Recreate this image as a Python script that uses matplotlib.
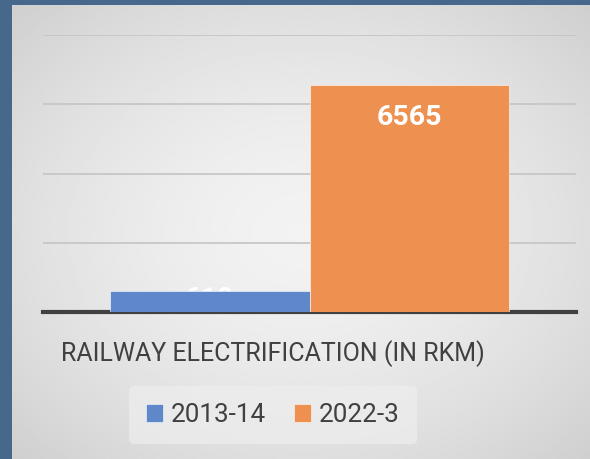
import matplotlib.pyplot as plt
import numpy as np

# data
category = ["RAILWAY ELECTRIFICATION (IN RKM)"]
series = ["2013-14", "2022-3"]
values = [610, 6565]
colors = ["#5e88ca", "#ee904f"]

plt.rcParams['font.family'] = ['Roboto', 'DejaVu Sans']

fig = plt.figure(figsize=(5.9, 4.59), dpi=100)
fig.patch.set_facecolor("#46688a")

# light panel with a soft radial gradient
bg = fig.add_axes([12/590, 0, 578/590, 454/459])
yy, xx = np.mgrid[0:1:200j, 0:1:200j]
r = np.sqrt(((xx - 0.5) / 0.75) ** 2 + ((yy - 0.5) / 0.75) ** 2)
shade = 0.95 - 0.15 * np.clip(r, 0, 1) ** 1.6
bg.imshow(shade, cmap="gray", vmin=0, vmax=1, extent=[0, 1, 0, 1], aspect="auto")
bg.axis("off")

ax = fig.add_axes([43/590, (459-312)/459, 533/590, 0.6034])
ax.set_facecolor("none")
ax.set_xlim(-1, 1)
ax.set_ylim(0, 8000)
ax.set_yticks(range(0, 8001, 2000))
ax.yaxis.grid(True, color="#c4c4c4", linewidth=1.2)
ax.set_axisbelow(True)
ax.tick_params(left=False, labelleft=False, bottom=False, labelbottom=False)
for s in ["left", "right", "top"]:
    ax.spines[s].set_visible(False)
ax.spines["bottom"].set_color("#404040")
ax.spines["bottom"].set_linewidth(3)

w = 0.75
offsets = [-w/2, w/2]
for i in range(len(series)):
    ax.bar(offsets[i], values[i], width=w, color=colors[i], label=series[i],
           edgecolor="white", linewidth=0.4, zorder=3)

# labels inside end (the small one hides behind its bar)
ax.text(offsets[1], values[1] - 950, str(values[1]), ha="center", va="center",
        color="white", fontsize=20.5, fontweight="bold", zorder=4)
ax.text(offsets[0], values[0] - 250, str(values[0]), ha="center", va="center",
        color="white", fontsize=20.5, fontweight="bold", zorder=2)

fig.text(273/590, (459-354)/459, category[0], ha="center", va="center",
         fontsize=18, color="#404040")

leg = fig.legend(loc="center", bbox_to_anchor=(273/590, (459-415)/459),
                 ncol=2, fontsize=18.7, frameon=True, handlelength=0.65,
                 handleheight=0.65, handletextpad=0.3, columnspacing=1.1,
                 borderpad=0.65)
leg.get_frame().set_facecolor("#eeeeee")
leg.get_frame().set_edgecolor("none")
leg.get_frame().set_alpha(0.7)
for t in leg.get_texts():
    t.set_color("#404040")

fig.savefig("out.png", dpi=100)
